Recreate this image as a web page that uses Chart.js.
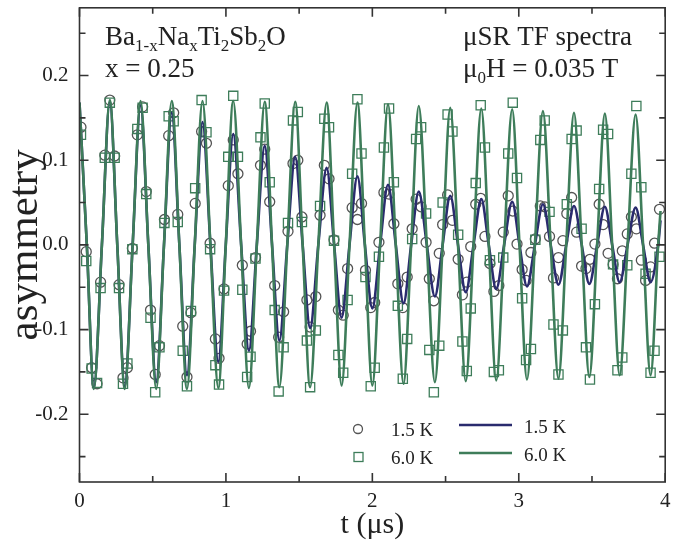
<!DOCTYPE html>
<html>
<head>
<meta charset="utf-8">
<script src="https://cdn.jsdelivr.net/npm/chart.js@4.4.0/dist/chart.umd.min.js"></script>
<style>
  html, body { margin: 0; padding: 0; background: #fff; }
  #wrap { width: 673px; height: 547px; }
</style>
</head>
<body>
<div id="wrap"><canvas id="chartCanvas" width="673" height="547"></canvas></div>
<script>
// measured points (t in μs)
const timeUs = [
  0.010, 0.046, 0.083, 0.120, 0.144, 0.173, 0.207, 0.240, 0.270, 0.297, 0.327, 0.361, 0.395, 0.431, 0.456, 0.485, 0.517, 0.546, 0.580, 0.609, 0.643, 0.671, 0.705, 0.734, 0.761, 0.790,
  0.834, 0.867, 0.892, 0.928, 0.953, 0.987, 1.016, 1.050, 1.082, 1.112, 1.145, 1.168, 1.202, 1.236, 1.265, 1.299, 1.333, 1.360, 1.394, 1.424, 1.458, 1.491, 1.519, 1.553, 1.575,
  1.614, 1.643, 1.672, 1.704, 1.738, 1.768, 1.801, 1.831, 1.862, 1.898, 1.926, 1.953, 1.989, 2.016, 2.045, 2.079, 2.114, 2.147, 2.174, 2.208, 2.238, 2.272, 2.299, 2.333, 2.367, 2.389, 2.420,
  2.457, 2.480, 2.514, 2.547, 2.586, 2.615, 2.645, 2.672, 2.706, 2.740, 2.769, 2.803, 2.830, 2.864, 2.894, 2.928, 2.959, 2.988, 3.023, 3.050, 3.083, 3.113, 3.147, 3.177, 3.210,
  3.237, 3.271, 3.301, 3.328, 3.361, 3.395, 3.429, 3.459, 3.486, 3.520, 3.549, 3.576, 3.610, 3.644, 3.674, 3.707, 3.741, 3.769, 3.803, 3.837, 3.866, 3.900, 3.927, 3.961
];
const asym15K = [
  0.139, -0.008, -0.145, -0.164, -0.044, 0.106, 0.171, 0.105, -0.047, -0.157, -0.145, -0.004, 0.130, 0.163, 0.063, -0.077, -0.153, -0.119, 0.030, 0.129, 0.156, 0.036, -0.096, -0.156, -0.080, 0.049,
  0.134, 0.120, 0.002, -0.111, -0.134, -0.052, 0.070, 0.124, 0.084, -0.024, -0.117, -0.102, -0.015, 0.094, 0.113, 0.051, -0.048, -0.109, -0.079, 0.016, 0.096, 0.100, 0.033, -0.065, -0.097,
  -0.061, 0.035, 0.094, 0.078, 0.006, -0.077, -0.083, -0.028, 0.044, 0.030, 0.049, -0.030, -0.074, -0.068, 0.003, 0.062, 0.060, 0.025, -0.046, -0.074, -0.038, 0.019, 0.054, 0.045, 0.003, -0.040, -0.066,
  -0.010, 0.024, 0.059, 0.029, -0.017, -0.059, -0.044, -0.002, 0.048, 0.055, 0.010, -0.022, -0.055, -0.048, 0.015, 0.058, 0.040, 0.001, -0.029, -0.042, -0.009, 0.007, 0.046, 0.045, 0.010,
  -0.039, -0.015, 0.005, 0.037, 0.056, 0.015, -0.025, -0.028, -0.017, 0.001, 0.048, 0.024, -0.010, -0.023, -0.040, -0.007, 0.013, 0.033, 0.019, -0.018, -0.042, -0.026, 0.002, 0.042
];
const asym60K = [
  0.130, -0.019, -0.146, -0.163, -0.051, 0.103, 0.168, 0.103, -0.051, -0.164, -0.140, -0.005, 0.137, 0.162, 0.060, -0.086, -0.174, -0.121, 0.026, 0.152, 0.146, 0.027, -0.125, -0.167, -0.078, 0.067,
  0.171, 0.133, -0.005, -0.142, -0.165, -0.054, 0.104, 0.176, 0.104, -0.053, -0.156, -0.132, -0.016, 0.127, 0.167, 0.074, -0.077, -0.173, -0.121, 0.026, 0.147, 0.157, 0.027, -0.113, -0.168,
  -0.101, 0.046, 0.149, 0.139, 0.005, -0.130, -0.151, -0.065, 0.084, 0.172, 0.108, -0.038, -0.167, -0.145, -0.014, 0.115, 0.161, 0.074, -0.072, -0.158, -0.111, 0.007, 0.125, 0.139, 0.037, -0.124, -0.174,
  -0.119, 0.050, 0.154, 0.134, 0.012, -0.114, -0.149, -0.075, 0.073, 0.165, 0.115, -0.018, -0.150, -0.148, -0.015, 0.108, 0.168, 0.079, -0.063, -0.136, -0.123, 0.006, 0.124, 0.147, 0.039,
  -0.094, -0.153, -0.101, 0.048, 0.125, 0.135, 0.019, -0.121, -0.159, -0.070, 0.066, 0.136, 0.131, -0.023, -0.148, -0.133, -0.024, 0.084, 0.164, 0.068, -0.034, -0.151, -0.125, -0.014
];

// fit curves: extrema and zero crossings
const fitTime = [
  0.000, 0.050, 0.098, 0.153, 0.207, 0.258, 0.309, 0.363, 0.417, 0.470, 0.524, 0.577, 0.630, 0.682, 0.734, 0.787,
  0.840, 0.894, 0.948, 0.999, 1.050, 1.104, 1.157, 1.211, 1.265, 1.315, 1.365, 1.419, 1.473, 1.524, 1.575, 1.631,
  1.688, 1.739, 1.790, 1.844, 1.898, 1.949, 2.000, 2.053, 2.107, 2.160, 2.213, 2.265, 2.317, 2.372, 2.427, 2.480,
  2.532, 2.585, 2.638, 2.691, 2.744, 2.795, 2.846, 2.900, 2.955, 3.005, 3.056, 3.110, 3.165, 3.218, 3.271, 3.324,
  3.377, 3.430, 3.482, 3.535, 3.588, 3.638, 3.689, 3.743, 3.798, 3.849, 3.900, 3.952, 3.968
];
const fit60K = [
  0.168, 0, -0.170, 0, 0.171, 0, -0.170, 0, 0.170, 0, -0.170, 0, 0.170, 0, -0.170, 0,
  0.170, 0, -0.169, 0, 0.170, 0, -0.169, 0, 0.169, 0, -0.168, 0, 0.169, 0, -0.168, 0,
  0.168, 0, -0.166, 0, 0.168, 0, -0.166, 0, 0.166, 0, -0.164, 0, 0.164, 0, -0.162, 0,
  0.162, 0, -0.161, 0, 0.161, 0, -0.160, 0, 0.160, 0, -0.159, 0, 0.158, 0, -0.158, 0,
  0.156, 0, -0.156, 0, 0.155, 0, -0.154, 0, 0.154, 0, -0.154, 0, 0.040
];
const fit15K = [
  0.168, 0, -0.169, 0, 0.169, 0, -0.167, 0, 0.165, 0, -0.162, 0, 0.156, 0, -0.154, 0,
  0.145, 0, -0.138, 0, 0.131, 0, -0.125, 0, 0.117, 0, -0.113, 0, 0.104, 0, -0.098, 0,
  0.091, 0, -0.086, 0, 0.081, 0, -0.075, 0, 0.071, 0, -0.069, 0, 0.063, 0, -0.061, 0,
  0.058, 0, -0.056, 0, 0.054, 0, -0.052, 0, 0.051, 0, -0.049, 0, 0.048, 0, -0.047, 0,
  0.046, 0, -0.046, 0, 0.045, 0, -0.044, 0, 0.044, 0, -0.044, 0, 0.029
];

const xTicks = [0, 1, 2, 3, 4];
const xMinor = [0.5, 1.5, 2.5, 3.5];
const yTicks = [-0.2, -0.1, 0.0, 0.1, 0.2];
const yMinor = [-0.25, -0.15, -0.05, 0.05, 0.15, 0.25];

const serif = '"Liberation Serif", "Times New Roman", serif';
const gray = '#555555';
const green = '#3e7d5a';
const navy = '#2a2b6e';

function pts(xs, ys) { return xs.map((x, i) => ({ x: x, y: ys[i] })); }

// frame, inward ticks, annotations, legend
const decor = {
  id: 'decor',
  afterDatasetsDraw(chart) {
    const { ctx, chartArea: a, scales: { x, y } } = chart;
    ctx.save();
    ctx.strokeStyle = '#333';
    ctx.lineWidth = 1.6;
    ctx.strokeRect(a.left, a.top, a.right - a.left, a.bottom - a.top);
    ctx.beginPath();
    const tick = (px, len, vert) => {
      if (vert) {
        ctx.moveTo(px, a.bottom); ctx.lineTo(px, a.bottom - len);
        ctx.moveTo(px, a.top); ctx.lineTo(px, a.top + len);
      } else {
        ctx.moveTo(a.left, px); ctx.lineTo(a.left + len, px);
        ctx.moveTo(a.right, px); ctx.lineTo(a.right - len, px);
      }
    };
    xTicks.forEach(v => tick(x.getPixelForValue(v), 9, true));
    xMinor.forEach(v => tick(x.getPixelForValue(v), 6, true));
    yTicks.forEach(v => tick(y.getPixelForValue(v), 9, false));
    yMinor.forEach(v => tick(y.getPixelForValue(v), 6, false));
    ctx.stroke();

    // text with subscripts
    ctx.fillStyle = '#222';
    ctx.textBaseline = 'alphabetic';
    const rich = (parts, x0, y0) => {
      let cx = x0;
      parts.forEach(p => {
        ctx.font = (p[1] ? '17px ' : '27px ') + serif;
        ctx.fillText(p[0], cx, y0 + (p[1] ? 6 : 0));
        cx += ctx.measureText(p[0]).width;
      });
    };
    rich([['Ba'], ['1-x', 1], ['Na'], ['x', 1], ['Ti'], ['2', 1], ['Sb'], ['2', 1], ['O']], 105, 45);
    rich([['x = 0.25']], 105, 77);
    rich([['\u03bcSR TF spectra']], 463, 45);
    rich([['\u03bc'], ['0', 1], ['H = 0.035 T']], 463, 77);

    // legend
    ctx.font = '19px ' + serif;
    ctx.textBaseline = 'middle';
    ctx.lineWidth = 1.3;
    ctx.strokeStyle = gray;
    ctx.beginPath(); ctx.arc(358, 429, 4.5, 0, Math.PI * 2); ctx.stroke();
    ctx.strokeStyle = green;
    ctx.strokeRect(354, 452.5, 9, 9);
    ctx.fillText('1.5 K', 391, 431);
    ctx.fillText('6.0 K', 391, 459);
    ctx.lineWidth = 2.6;
    ctx.strokeStyle = navy;
    ctx.beginPath(); ctx.moveTo(459, 425); ctx.lineTo(512, 425); ctx.stroke();
    ctx.strokeStyle = green;
    ctx.beginPath(); ctx.moveTo(459, 453); ctx.lineTo(512, 453); ctx.stroke();
    ctx.fillText('1.5 K', 524, 428);
    ctx.fillText('6.0 K', 524, 456);
    ctx.restore();
  }
};

const ctx = document.getElementById('chartCanvas').getContext('2d');
const chart = new Chart(ctx, {
  type: 'scatter',
  data: {
    datasets: [
      {
        label: '1.5 K',
        data: pts(timeUs, asym15K),
        pointStyle: 'circle',
        pointRadius: 5,
        borderColor: gray,
        backgroundColor: 'rgba(0,0,0,0)',
        borderWidth: 1.3,
        order: 4
      },
      {
        label: '6.0 K',
        data: pts(timeUs, asym60K),
        pointStyle: 'rect',
        pointRadius: 6.5,
        borderColor: green,
        backgroundColor: 'rgba(0,0,0,0)',
        borderWidth: 1.3,
        order: 3
      },
      {
        label: '1.5 K fit',
        data: pts(fitTime, fit15K),
        showLine: true,
        pointRadius: 0,
        borderColor: navy,
        borderWidth: 2.6,
        cubicInterpolationMode: 'monotone',
        order: 2
      },
      {
        label: '6.0 K fit',
        data: pts(fitTime, fit60K),
        showLine: true,
        pointRadius: 0,
        borderColor: green,
        borderWidth: 2.6,
        cubicInterpolationMode: 'monotone',
        order: 1
      }
    ]
  },
  options: {
    responsive: false,
    animation: false,
    layout: { padding: { top: 7, right: 4, left: 0, bottom: 0 } },
    plugins: { legend: { display: false }, tooltip: { enabled: false } },
    scales: {
      x: {
        type: 'linear',
        min: 0,
        max: 4,
        afterBuildTicks: s => { s.ticks = xTicks.map(v => ({ value: v })); },
        afterFit: s => { s.height = 65; s.paddingLeft = 0; s.paddingRight = 0; },
        grid: { display: false, drawTicks: false },
        border: { display: false },
        ticks: { padding: 7, color: '#222', font: { family: serif, size: 21 } },
        title: { display: true, text: 't (\u03bcs)', color: '#222', font: { family: serif, size: 30 }, padding: { top: 0, bottom: 4 } }
      },
      y: {
        min: -0.28,
        max: 0.28,
        afterBuildTicks: s => { s.ticks = yTicks.map(v => ({ value: v })); },
        afterFit: s => { s.width = 79.5; s.paddingTop = 0; s.paddingBottom = 0; },
        grid: { display: false, drawTicks: false },
        border: { display: false },
        ticks: { padding: 11, color: '#222', font: { family: serif, size: 21 }, callback: v => v.toFixed(1) },
        title: { display: true, text: 'asymmetry', color: '#222', font: { family: serif, size: 43 }, padding: { top: 0, bottom: 0 } }
      }
    }
  },
  plugins: [decor]
});
</script>
</body>
</html>
